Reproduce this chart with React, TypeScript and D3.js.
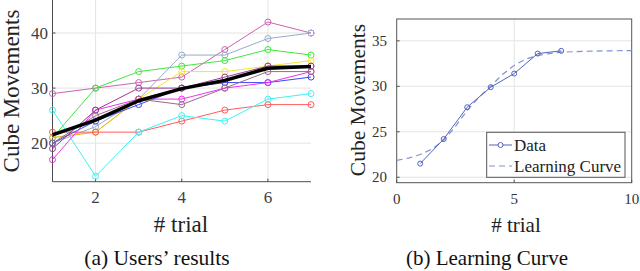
import React from "react";
import * as d3 from "d3";

// ---------- Data ----------
const trials = [1, 2, 3, 4, 5, 6, 7];
const userNames = ["U1", "U2", "U3", "U4", "U5", "U6", "U7", "U8", "U9", "U10", "U11"];
const userColors = ["#cf62b2", "#9aaacb", "#3fe83f", "#f2e534", "#eeb226", "#ff5c5c", "#3ff2f2", "#3a48f5", "#f230f2", "#9a3a96", "#9a6a88"];
const u1 = [29, 30, 31, 32, 37, 42, 40];
const u2 = [20, 23, 28, 36, 36, 39, 40];
const u3 = [21, 30, 33, 34, 35, 37, 36];
const u4 = [21, 22, 28, 33, 33, 34, 35];
const u5 = [21, 22, 28, 30, 31, 34, 34];
const u6 = [22, 22, 22, 24, 26, 27, 27];
const u7 = [26, 14, 22, 25, 24, 28, 29];
const u8 = [20, 24, 27, 30, 31, 31, 32];
const u9 = [17, 26, 28, 28, 30, 31, 33];
const u10 = [19, 26, 30, 30, 32, 34, 34];
const u11 = [20, 25, 28, 27, 30, 33, 33];
const userSeries = [u1, u2, u3, u4, u5, u6, u7, u8, u9, u10, u11];
const meanValues = [21.5, 24.2, 27.7, 29.9, 31.4, 33.6, 33.9];

const leftXTicks = [2, 4, 6];
const leftYTicks = [20, 30, 40];

const curveX = [0, 0.5, 1, 1.5, 2, 2.5, 3, 3.5, 4, 4.5, 5, 5.5, 6, 6.5, 7, 7.5, 8, 9, 10];
const curveY = [21.85, 22.1, 22.5, 23.1, 24.05, 25.6, 27.35, 28.8, 30.0, 31.3, 32.3, 33.0, 33.4, 33.6, 33.75, 33.8, 33.85, 33.9, 33.92];
const rightXTicks = [0, 5, 10];
const rightYTicks = [20, 25, 30, 35];

const FONT = "'Liberation Serif', 'Times New Roman', serif";

export default function App() {
  // Left panel scales
  const xL = d3.scaleLinear().domain([1, 7]).range([52.5, 311]);
  const yL = d3.scaleLinear().domain([13, 46]).range([181.7, 0]);
  const lineL = d3
    .line<number>()
    .x((_, i) => xL(trials[i]))
    .y((d) => yL(d));

  // Right panel scales
  const xR = d3.scaleLinear().domain([0, 10]).range([396.7, 631.7]);
  const yR = d3.scaleLinear().domain([19.4, 37.4]).range([182.7, 19]);
  const lineR = d3
    .line<number>()
    .x((_, i) => xR(trials[i]))
    .y((d) => yR(d));
  const curveLine = d3
    .line<number>()
    .x((_, i) => xR(curveX[i]))
    .y((d) => yR(d));

  const gridColor = "#e4e4e4";
  const axisColor = "#4d4d4d";
  const dataColor = "#5263bd";
  const curveColor = "#7f91cf";

  return (
    <svg
      width={640}
      height={271}
      style={{ position: "absolute", left: 0, top: 0, background: "#fff" }}
      fontFamily={FONT}
    >
      <rect x={0} y={0} width={640} height={271} fill="#fff" />
      {/* ---------- Left panel ---------- */}
      <g>
        {leftXTicks.map((t) => (
          <line key={"gx" + t} x1={xL(t)} x2={xL(t)} y1={0} y2={yL.range()[0]} stroke={gridColor} strokeWidth={1} />
        ))}
        {leftYTicks.map((t) => (
          <line key={"gy" + t} x1={xL.range()[0]} x2={xL.range()[1]} y1={yL(t)} y2={yL(t)} stroke={gridColor} strokeWidth={1} />
        ))}
        {/* axes */}
        <line x1={xL.range()[0]} x2={xL.range()[1]} y1={yL.range()[0]} y2={yL.range()[0]} stroke={axisColor} strokeWidth={1} />
        <line x1={xL.range()[0]} x2={xL.range()[0]} y1={0} y2={yL.range()[0]} stroke={axisColor} strokeWidth={1} />
        {leftXTicks.map((t) => (
          <g key={"tx" + t}>
            <line x1={xL(t)} x2={xL(t)} y1={yL.range()[0]} y2={yL.range()[0] - 3} stroke={axisColor} />
            <text x={xL(t)} y={203} textAnchor="middle" fontSize={17} fill="#404040">
              {t}
            </text>
          </g>
        ))}
        {leftYTicks.map((t) => (
          <g key={"ty" + t}>
            <line x1={xL.range()[0]} x2={xL.range()[0] + 3} y1={yL(t)} y2={yL(t)} stroke={axisColor} />
            <text x={48} y={yL(t) + 6} textAnchor="end" fontSize={17} fill="#404040">
              {t}
            </text>
          </g>
        ))}
        {/* user lines */}
        {userSeries.map((s, k) => (
          <g key={userNames[k]}>
            <path d={lineL(s) || ""} fill="none" stroke={userColors[k]} strokeWidth={1} />
            {s.map((v, i) => (
              <circle key={i} cx={xL(trials[i])} cy={yL(v)} r={3} fill="none" stroke={userColors[k]} strokeWidth={1} />
            ))}
          </g>
        ))}
        <path d={lineL(meanValues) || ""} fill="none" stroke="#000" strokeWidth={3.5} strokeLinejoin="round" />
        {/* labels */}
        <text transform={`translate(19,${91}) rotate(-90)`} textAnchor="middle" fontSize={23} fill="#222">
          Cube Movements
        </text>
        <text x={181} y={232} textAnchor="middle" fontSize={23} fill="#222">
          # trial
        </text>
        <text x={157} y={265} textAnchor="middle" fontSize={21.5} fill="#111">
          (a) Users’ results
        </text>
      </g>

      {/* ---------- Right panel ---------- */}
      <g>
        <line x1={xR(5)} x2={xR(5)} y1={yR.range()[1]} y2={yR.range()[0]} stroke={gridColor} />
        {rightYTicks.map((t) => (
          <line key={"rgy" + t} x1={xR.range()[0]} x2={xR.range()[1]} y1={yR(t)} y2={yR(t)} stroke={gridColor} />
        ))}
        <rect
          x={xR.range()[0]}
          y={yR.range()[1]}
          width={xR.range()[1] - xR.range()[0]}
          height={yR.range()[0] - yR.range()[1]}
          fill="none"
          stroke="#555"
          strokeWidth={1}
        />
        {rightXTicks.map((t) => (
          <g key={"rtx" + t}>
            <line x1={xR(t)} x2={xR(t)} y1={yR.range()[0]} y2={yR.range()[0] - 3} stroke="#555" />
            <text x={xR(t)} y={204} textAnchor="middle" fontSize={15} fill="#333">
              {t}
            </text>
          </g>
        ))}
        {rightYTicks.map((t) => (
          <g key={"rty" + t}>
            <line x1={xR.range()[0]} x2={xR.range()[0] + 3} y1={yR(t)} y2={yR(t)} stroke="#555" />
            <text x={387} y={yR(t) + 5} textAnchor="end" fontSize={15} fill="#333">
              {t}
            </text>
          </g>
        ))}
        <path d={curveLine(curveY) || ""} fill="none" stroke={curveColor} strokeWidth={1.2} strokeDasharray="6,4" />
        <path d={lineR(meanValues) || ""} fill="none" stroke={dataColor} strokeWidth={1} />
        {meanValues.map((v, i) => (
          <circle key={"rd" + i} cx={xR(trials[i])} cy={yR(v)} r={2.5} fill="none" stroke={dataColor} strokeWidth={1} />
        ))}
        {/* legend */}
        <rect x={486.7} y={132.3} width={138.3} height={45} fill="#fff" stroke="#555" strokeWidth={1} />
        <line x1={489} x2={512} y1={145} y2={145} stroke={dataColor} strokeWidth={1} />
        <circle cx={500.5} cy={145} r={2.5} fill="#fff" stroke={dataColor} strokeWidth={1} />
        <text x={514} y={150.5} fontSize={17} fill="#222">
          Data
        </text>
        <line x1={489} x2={512} y1={166} y2={166} stroke={curveColor} strokeWidth={1.2} strokeDasharray="6,4" />
        <text x={514} y={171.5} fontSize={17} fill="#222">
          Learning Curve
        </text>
        {/* labels */}
        <text transform={`translate(365,${100}) rotate(-90)`} textAnchor="middle" fontSize={21.5} fill="#222">
          Cube Movements
        </text>
        <text x={516} y={232} textAnchor="middle" fontSize={21} fill="#222">
          # trial
        </text>
        <text x={487} y={265} textAnchor="middle" fontSize={21} fill="#111">
          (b) Learning Curve
        </text>
      </g>
    </svg>
  );
}
